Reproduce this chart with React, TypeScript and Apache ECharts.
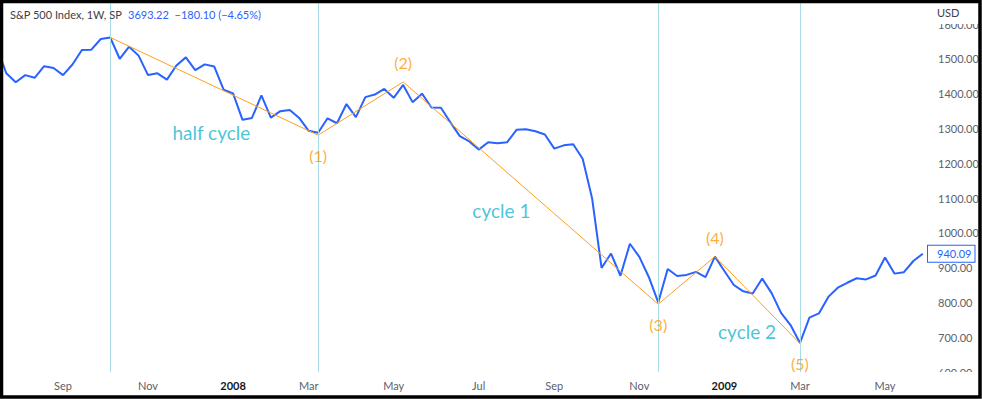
import React, { useEffect, useRef } from "react";
import * as echarts from "echarts";

// Weekly closes of the S&P 500, first bar = week of 2007-07-16 (index 0)
const firstWeek = "2007-07-16";
const closes = [
  1534.1, 1458.95, 1433.06, 1453.64, 1445.94, 1479.37, 1473.99,
  1453.55, 1484.25, 1525.75, 1526.75, 1557.59, 1561.8, 1500.63, 1535.28, 1509.65,
  1453.7, 1458.74, 1440.7, 1481.14, 1504.66, 1467.95, 1484.46, 1478.49, 1411.63,
  1401.02, 1325.19, 1330.61, 1395.42, 1331.29, 1349.99, 1353.11, 1330.63, 1293.37,
  1288.14, 1329.51, 1315.22, 1370.4, 1332.83, 1390.33, 1397.84, 1413.9, 1388.28,
  1425.35, 1375.93, 1400.38, 1360.68, 1360.03, 1317.93, 1278.38, 1262.9, 1239.49,
  1260.68, 1257.76, 1260.31, 1296.32, 1298.2, 1292.2, 1282.83, 1242.31, 1251.7,
  1255.08, 1213.27, 1099.23, 899.22, 940.55, 876.77, 968.75, 930.99, 873.29,
  800.03, 896.24, 876.07, 879.13, 887.88, 872.8, 931.8, 890.35, 850.12,
  831.95, 825.88, 868.6, 826.84, 770.05, 735.09, 683.38, 756.55, 768.54,
  815.94, 842.5, 856.56, 869.6, 866.23, 877.52, 929.23, 882.88, 887.0,
  919.14, 940.09,
];

// x-axis tick labels (week index of first bar of each labelled month)
const tickWeeks = [7, 16, 25, 33, 42, 51, 59, 68, 77, 85, 94];
const tickLabels = ["Sep", "Nov", "2008", "Mar", "May", "Jul", "Sep", "Nov", "2009", "Mar", "May"];

// vertical cycle markers
const cycleWeeks = [12, 34, 70, 85];

// orange zig-zag pivots
const pivotWeeks = [12, 34, 43, 70, 76, 85];
const pivotValues = [1562, 1281, 1434, 795, 932, 682];
const pivotLabels = ["", "(1)", "(2)", "(3)", "(4)", "(5)"];
const pivotAbove = [false, false, true, false, true, false];

// cyan notes
const noteTexts = ["half cycle", "cycle 1", "cycle 2"];
const noteWeeks = [22.7, 53.4, 79.4];
const noteValues = [1290, 1063, 717];

const lastPrice = 940.09;
const yTicks = { min: 600, max: 1661, interval: 100 };

const FONT = "Lato, 'Open Sans', sans-serif";

export default function App() {
  const ref = useRef<HTMLDivElement>(null);

  useEffect(() => {
    if (!ref.current) return;
    const chart = echarts.init(ref.current, undefined, { renderer: "svg" });
    const option: any = {
      animation: false,
      backgroundColor: "#ffffff",
      textStyle: { fontFamily: FONT },
      grid: { left: 3, right: 54, top: 3, bottom: 27 },
      xAxis: {
        type: "value",
        min: 0.65,
        max: 98.55,
        axisLine: { show: false },
        axisTick: { show: false },
        splitLine: { show: false },
        axisLabel: {
          customValues: tickWeeks,
          margin: 8,
          fontSize: 11,
          color: "#5d606b",
          fontFamily: FONT,
          formatter: (v: number) => {
            const i = tickWeeks.indexOf(Math.round(v));
            const t = i >= 0 ? tickLabels[i] : "";
            return /^\d{4}$/.test(t) ? `{b|${t}}` : t;
          },
          rich: { b: { fontWeight: "bold", color: "#131722", fontSize: 11, fontFamily: FONT } },
        },
      },
      yAxis: {
        type: "value",
        position: "right",
        min: yTicks.min,
        max: yTicks.max,
        interval: yTicks.interval,
        axisLine: { show: false },
        axisTick: { show: false },
        splitLine: { show: false },
        axisLabel: {
          showMaxLabel: false,
          margin: 10,
          fontSize: 11,
          color: "#5d606b",
          fontFamily: FONT,
          formatter: (v: number) => v.toFixed(2),
        },
      },
      series: [
        {
          type: "line",
          data: closes.map((v, i) => [i, v]),
          showSymbol: false,
          symbol: "none",
          lineStyle: { color: "#2962ff", width: 2 },
          z: 3,
          silent: true,
          markLine: {
            silent: true,
            symbol: "none",
            animation: false,
            data: [
              ...cycleWeeks.map((w) => ({
                xAxis: w,
                lineStyle: { color: "#a6dbe7", width: 1, type: "solid" },
                label: { show: false },
              })),
              {
                yAxis: lastPrice,
                lineStyle: { color: "rgba(0,0,0,0)", width: 0, type: "solid" },
                label: {
                  show: true,
                  position: "end",
                  distance: 0,
                  formatter: lastPrice.toFixed(2),
                  color: "#2962ff",
                  fontSize: 11,
                  fontFamily: FONT,
                  backgroundColor: "#ffffff",
                  borderColor: "#2962ff",
                  borderWidth: 1,
                  padding: [3, 3, 2, 9],
                },
              },
            ],
          },
        },
        {
          type: "line",
          data: pivotWeeks.map((w, i) => [w, pivotValues[i]]),
          showSymbol: false,
          symbol: "none",
          lineStyle: { color: "#ff9f1c", width: 1 },
          z: 4,
          silent: true,
        },
        {
          type: "scatter",
          symbolSize: 0,
          silent: true,
          z: 5,
          data: pivotWeeks.map((w, i) => ({
            value: [w, pivotValues[i]],
            label: {
              show: pivotLabels[i] !== "",
              formatter: pivotLabels[i],
              position: "inside",
              offset: [0, pivotAbove[i] ? -19 : 20],
              color: "#ff9800",
              fontSize: 16,
              fontFamily: FONT,
            },
          })),
        },
        {
          type: "scatter",
          symbolSize: 0,
          silent: true,
          z: 5,
          data: noteTexts.map((t, i) => ({
            value: [noteWeeks[i], noteValues[i]],
            label: {
              show: true,
              formatter: t,
              position: "inside",
              color: "#1ab4cf",
              fontSize: 19,
              fontFamily: FONT,
            },
          })),
        },
      ],
      graphic: [
        { type: "rect", z: 100, silent: true, shape: { x: 929, y: 3, width: 49, height: 21 }, style: { fill: "#ffffff" } },
        { type: "rect", z: 100, silent: true, shape: { x: 929, y: 372, width: 49, height: 8 }, style: { fill: "#ffffff" } },
        {
          type: "text", z: 110, silent: true, x: 937, y: 7,
          style: { text: "USD", fill: "#3b3e47", fontSize: 11, fontFamily: FONT },
        },
        {
          type: "text", z: 110, silent: true, x: 10, y: 9,
          style: { text: "S&P 500 Index, 1W, SP", fill: "#3b3e47", fontSize: 11, fontFamily: FONT },
        },
        {
          type: "text", z: 110, silent: true, x: 128, y: 9,
          style: { text: "3693.22  \u2212180.10 (\u22124.65%)", fill: "#2962ff", fontSize: 11, fontFamily: FONT },
        },
        {
          type: "rect", z: 120, silent: true,
          shape: { x: 1.5, y: 1.5, width: 978.5, height: 395.5 },
          style: { fill: "none", stroke: "#000000", lineWidth: 3.5 },
        },
      ],
    };
    chart.setOption(option);
    return () => chart.dispose();
  }, []);

  return (
    <div
      ref={ref}
      data-first-week={firstWeek}
      style={{ position: "fixed", left: 0, top: 0, width: 982, height: 399, background: "#fff" }}
    />
  );
}
